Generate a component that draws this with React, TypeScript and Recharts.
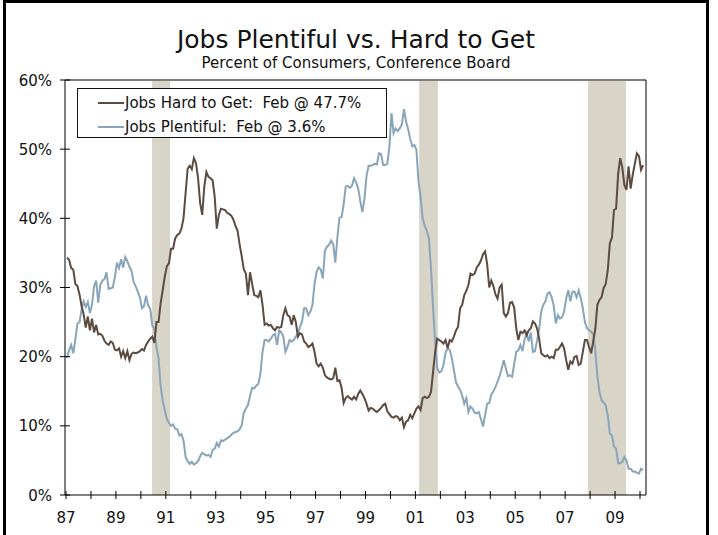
import { Legend, Line, LineChart, ReferenceArea, ReferenceLine, XAxis, YAxis } from 'recharts';

// Conference Board labor differential, monthly from Jan 1987 to Feb 2010
const START_YEAR = 1987;

const hardToGet: number[] = [
  34.3, 34.0, 32.8, 32.6, 30.5, 30.2, 29.0, 27.3, 26.1, 24.2,
  25.8, 23.8, 25.5, 23.5, 24.6, 23.2, 23.3, 23.0, 22.3, 21.9,
  21.7, 22.2, 22.0, 21.0, 20.9, 21.2, 20.0, 20.8, 19.8, 20.8,
  19.5, 20.4, 20.6, 20.5, 20.6, 20.8, 21.1, 20.9, 21.7, 22.2,
  22.6, 22.9, 22.0, 25.0, 25.0, 27.7, 29.6, 31.6, 33.1, 33.5,
  35.6, 35.6, 37.1, 37.6, 37.8, 38.5, 40.0, 43.6, 47.2, 47.6,
  47.1, 48.7, 48.0, 45.8, 42.2, 40.5, 44.6, 46.7, 46.0, 45.8,
  45.5, 43.1, 38.5, 40.5, 41.4, 41.3, 41.2, 40.8, 40.6, 40.4,
  39.8, 38.9, 38.2, 36.2, 34.5, 32.6, 32.0, 28.9, 32.2, 30.5,
  28.9, 28.8, 28.6, 29.6, 27.5, 24.6, 24.8, 24.5, 24.6, 24.1,
  23.8, 24.3, 24.2, 24.3, 26.0, 27.0, 26.0, 25.8, 24.6, 26.0,
  25.0, 22.9, 23.4, 23.2, 22.2, 21.9, 21.4, 21.6, 21.9, 20.7,
  19.0, 18.6, 19.0, 18.4, 17.3, 17.0, 16.8, 16.7, 16.9, 18.4,
  16.5, 16.6, 15.5, 13.3, 14.0, 14.3, 14.0, 13.8, 14.2, 13.8,
  14.6, 15.1, 14.6, 14.0, 13.2, 12.2, 12.6, 12.5, 12.2, 12.0,
  12.3, 12.6, 13.0, 13.2, 12.1, 11.7, 11.3, 11.2, 11.4, 11.3,
  10.8, 11.2, 9.8, 10.6, 10.8, 11.6, 11.1, 11.8, 12.5, 12.8,
  12.3, 14.0, 14.2, 14.0, 14.2, 14.9, 17.8, 20.7, 22.6, 22.4,
  22.2, 21.9, 22.4, 21.2, 22.4, 22.2, 22.9, 23.8, 24.3, 27.0,
  27.5, 28.9, 29.5, 30.4, 32.0, 31.8, 32.0, 32.9, 33.3, 33.9,
  34.8, 35.2, 33.4, 30.0, 31.0, 30.2, 29.0, 28.4, 30.0, 30.4,
  26.3, 25.8, 26.3, 27.8, 27.9, 27.1, 24.1, 22.4, 23.6, 23.4,
  23.8, 23.1, 23.8, 24.1, 25.1, 24.8, 24.1, 22.6, 20.5, 20.2,
  20.0, 20.2, 19.8, 20.0, 19.8, 21.0, 21.0, 21.4, 21.9, 21.2,
  19.5, 18.1, 19.3, 19.0, 20.0, 20.1, 18.8, 19.0, 20.7, 22.4,
  22.4, 21.4, 20.5, 22.2, 24.0, 27.5, 28.2, 28.6, 29.9, 30.5,
  32.5, 36.4, 37.2, 41.2, 41.4, 46.5, 48.7, 47.3, 44.8, 44.1,
  47.5, 44.3, 46.3, 47.9, 49.4, 49.0, 47.0, 47.7,
];

const plentiful: number[] = [
  19.8, 21.0, 21.7, 20.5, 22.5, 24.8, 25.0, 26.8, 28.0, 27.2,
  27.9, 26.3, 27.5, 30.2, 31.0, 27.8, 30.4, 31.0, 31.2, 32.2,
  29.8, 29.9, 30.0, 31.5, 33.6, 32.8, 34.1, 32.9, 34.4, 33.8,
  33.0, 32.4, 30.8, 30.2, 29.4, 28.6, 27.0, 27.3, 28.8, 27.4,
  26.9, 24.5, 24.0, 21.4, 19.8, 15.8, 13.6, 12.2, 11.0, 10.4,
  10.0, 10.2, 9.6, 9.5, 8.6, 8.8, 7.9, 5.5, 4.9, 4.5,
  4.8, 4.4, 4.6, 4.9, 5.6, 6.1, 5.9, 5.7, 5.8, 5.5,
  6.5, 6.7, 7.5, 7.0, 7.9, 7.8, 8.0, 8.2, 8.4, 8.7,
  9.0, 9.1, 9.2, 9.5, 10.1, 11.9, 12.5, 13.0, 14.3, 15.5,
  15.4, 15.8, 16.1, 17.6, 20.7, 22.4, 22.4, 22.2, 22.6, 23.1,
  23.3, 21.7, 23.8, 23.5, 22.9, 20.7, 21.4, 22.4, 22.2, 22.4,
  22.9, 23.3, 24.3, 25.1, 27.0, 27.0, 26.0, 26.5, 27.5, 30.5,
  32.3, 32.9, 32.6, 31.3, 35.3, 35.9, 36.2, 36.8, 36.2, 33.6,
  37.3, 40.1, 40.2, 42.0, 44.6, 44.7, 44.4, 44.7, 45.8, 45.2,
  44.3, 42.5, 40.9, 42.8, 46.1, 47.6, 47.6, 47.7, 47.9, 47.8,
  49.4, 49.3, 47.7, 47.7, 47.9, 50.3, 55.2, 52.3, 53.0, 52.6,
  53.0, 53.6, 55.8, 54.0, 52.9, 51.5, 50.4, 50.6, 49.9, 45.3,
  43.1, 40.0, 38.9, 38.2, 37.1, 32.8, 27.0, 22.2, 18.3, 17.7,
  17.9, 18.8, 20.6, 21.2, 21.0, 19.8, 18.1, 16.3, 15.7, 15.2,
  14.4, 13.2, 14.0, 12.0, 12.8, 12.5, 11.9, 11.8, 12.0, 11.0,
  9.9, 11.5, 13.2, 13.3, 14.5, 15.0, 15.6, 16.4, 17.2, 18.3,
  19.5, 18.3, 17.2, 17.3, 17.1, 18.9, 20.7, 20.9, 21.7, 20.8,
  22.5, 23.4, 22.2, 23.5, 20.7, 20.8, 22.3, 24.0, 26.5, 27.5,
  28.0, 29.1, 29.3, 28.6, 27.4, 24.8, 26.0, 25.5, 25.7, 26.5,
  28.4, 29.6, 28.0, 29.4, 29.4, 28.6, 29.6, 28.5, 27.0, 25.0,
  24.1, 23.8, 23.6, 23.3, 21.0, 17.2, 14.9, 13.7, 13.4, 13.0,
  11.5, 8.9, 8.6, 7.0, 6.7, 4.6, 4.6, 4.8, 5.5, 5.0,
  3.8, 3.8, 3.4, 3.4, 3.2, 3.1, 3.8, 3.6,
];

// recession periods (start, end) in decimal years
const recessions: [number, number][] = [
  [1990.45, 1991.17],
  [2001.15, 2001.9],
  [2007.92, 2009.44],
];

const yearTicks = [
  1987, 1988, 1989, 1990, 1991, 1992, 1993, 1994, 1995, 1996, 1997, 1998,
  1999, 2000, 2001, 2002, 2003, 2004, 2005, 2006, 2007, 2008, 2009, 2010,
];
const pctTicks = [0, 10, 20, 30, 40, 50, 60];

const FONT = '"DejaVu Sans", Verdana, sans-serif';
const HARD_COLOR = '#5b4b40';
const PLENTIFUL_COLOR = '#89a5b9';
const BAND_COLOR = '#d8d4c8';

const rows = hardToGet.map((v, i) => ({
  t: START_YEAR + (i + 0.5) / 12,
  hard: v,
  plentiful: plentiful[i],
}));

const legendItems = [
  { label: 'Jobs Hard to Get:  Feb @ 47.7%', color: HARD_COLOR },
  { label: 'Jobs Plentiful:  Feb @ 3.6%', color: PLENTIFUL_COLOR },
];

function LeftTick({ x, y, payload }: any) {
  return (
    <g>
      <line x1={x - 5} x2={x + 5} y1={y} y2={y} stroke="#000" />
      <text x={x - 13} y={y} dy={5.5} textAnchor="end" fontSize={15} fontFamily={FONT} fill="#111">
        {payload.value}%
      </text>
    </g>
  );
}

function RightTick({ x, y, payload }: any) {
  return (
    <g>
      <line x1={x - 5} x2={x + 5} y1={y} y2={y} stroke="#000" />
      <text x={x + 13} y={y} dy={5.5} textAnchor="start" fontSize={15} fontFamily={FONT} fill="#111">
        {payload.value}%
      </text>
    </g>
  );
}

function YearTick({ x, y, payload }: any) {
  const year: number = payload.value;
  const showLabel = year % 2 === 1 && year < 2010;
  return (
    <g>
      <line x1={x} x2={x} y1={y - 4} y2={y + 4} stroke="#000" />
      {showLabel && (
        <text x={x} y={y + 28} textAnchor="middle" fontSize={15} fontFamily={FONT} fill="#111">
          {String(year % 100).padStart(2, '0')}
        </text>
      )}
    </g>
  );
}

function LegendBox() {
  return (
    <div
      style={{
        width: 310,
        height: 50,
        boxSizing: 'border-box',
        border: '1.5px solid #111',
        background: '#fff',
        fontFamily: FONT,
        fontSize: 15,
        color: '#111',
        paddingTop: 4,
      }}
    >
      {legendItems.map((item) => (
        <div key={item.label} style={{ display: 'flex', alignItems: 'center', height: 20, marginBottom: 4 }}>
          <span style={{ display: 'inline-block', width: 26, height: 2, background: item.color, marginLeft: 20 }} />
          <span style={{ whiteSpace: 'pre', marginLeft: 1 }}>{item.label}</span>
        </div>
      ))}
    </div>
  );
}

export default function App() {
  return (
    <div style={{ position: 'absolute', left: 0, top: 0, width: 718, height: 535, overflow: 'hidden', background: '#fff' }}>
      <div
        style={{
          position: 'absolute',
          left: 0,
          width: 712,
          top: 27,
          textAlign: 'center',
          fontFamily: FONT,
          fontSize: 25,
          lineHeight: '25px',
          color: '#111',
        }}
      >
        Jobs Plentiful vs. Hard to Get
      </div>
      <div
        style={{
          position: 'absolute',
          left: 0,
          width: 712,
          top: 56,
          textAlign: 'center',
          fontFamily: FONT,
          fontSize: 15,
          lineHeight: '15px',
          color: '#111',
        }}
      >
        Percent of Consumers, Conference Board
      </div>

      <div style={{ position: 'absolute', left: 0, top: 0 }}>
        <LineChart width={718} height={535} data={rows} margin={{ top: 80, right: 0, bottom: 0, left: 0 }}>
          <XAxis
            dataKey="t"
            type="number"
            domain={[1986.96, 2010.24]}
            ticks={yearTicks}
            interval={0}
            allowDataOverflow
            height={40}
            tickSize={0}
            tickMargin={0}
            tickLine={false}
            tick={<YearTick />}
            axisLine={{ stroke: '#000' }}
          />
          <YAxis
            yAxisId="left"
            domain={[0, 60]}
            ticks={pctTicks}
            width={65}
            tickSize={0}
            tickMargin={0}
            tickLine={false}
            tick={<LeftTick />}
            axisLine={{ stroke: '#000' }}
          />
          <YAxis
            yAxisId="right"
            orientation="right"
            domain={[0, 60]}
            ticks={pctTicks}
            width={72}
            tickSize={0}
            tickMargin={0}
            tickLine={false}
            tick={<RightTick />}
            axisLine={{ stroke: '#000' }}
          />
          {recessions.map(([start, end]) => (
            <ReferenceArea
              key={start}
              yAxisId="left"
              x1={start}
              x2={end}
              y1={0}
              y2={60}
              fill={BAND_COLOR}
              fillOpacity={1}
              stroke="none"
              ifOverflow="hidden"
            />
          ))}
          <ReferenceLine yAxisId="left" y={60} stroke="#7d7d7d" strokeWidth={2} />
          <Legend
            verticalAlign="middle"
            align="center"
            layout="horizontal"
            content={<LegendBox />}
            wrapperStyle={{ left: 77, top: 88, width: 310, height: 50 }}
          />
          <Line
            yAxisId="left"
            dataKey="plentiful"
            name="Jobs Plentiful"
            stroke={PLENTIFUL_COLOR}
            strokeWidth={2}
            dot={false}
            isAnimationActive={false}
          />
          <Line
            yAxisId="left"
            dataKey="hard"
            name="Jobs Hard to Get"
            stroke={HARD_COLOR}
            strokeWidth={2}
            dot={false}
            isAnimationActive={false}
          />
        </LineChart>
      </div>

      <div
        style={{
          position: 'absolute',
          left: 3,
          top: 0,
          width: 706,
          height: 560,
          boxSizing: 'border-box',
          border: '3px solid #000',
          pointerEvents: 'none',
        }}
      />
    </div>
  );
}
